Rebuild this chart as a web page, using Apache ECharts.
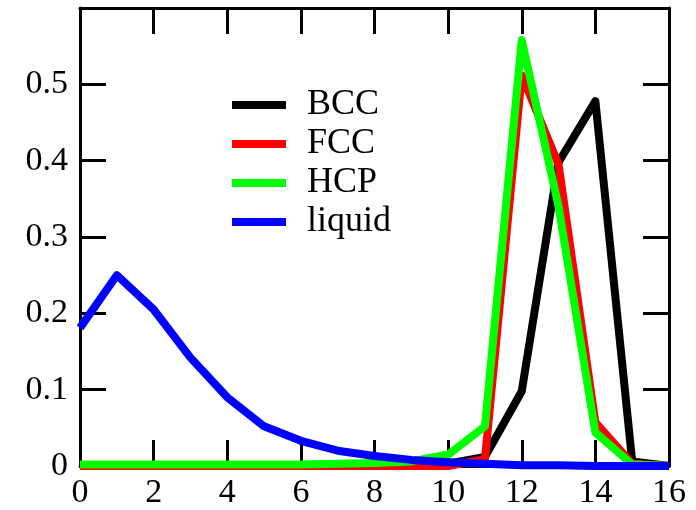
<!DOCTYPE html>
<html lang="en">
  <head>
    <meta charset="UTF-8" />
    <title>Coordination number distribution</title>
    <script src="https://cdn.jsdelivr.net/npm/echarts@6/dist/echarts.min.js"></script>
    <style>
      body {
        margin: 0;
        background-color: #ffffff;
      }

      #chart {
        width: 696px;
        height: 510px;
      }
    </style>
  </head>
  <body>
    <div id="chart"></div>
    <script>
      const chart = echarts.init(document.getElementById("chart"));

      // neighbour count 0..16
      var nn = [0, 1, 2, 3, 4, 5, 6, 7, 8, 9, 10, 11, 12, 13, 14, 15, 16];

      var bcc = [0, 0, 0, 0, 0, 0, 0, 0, 0, 0, 0.003, 0.012, 0.098, 0.398, 0.478, 0.006, 0];
      var fcc = [0, 0, 0, 0, 0, 0, 0, 0, 0, 0, 0, 0.009, 0.512, 0.395, 0.057, 0.003, 0];
      var hcp = [0.002, 0.002, 0.002, 0.002, 0.002, 0.002, 0.002, 0.003, 0.004, 0.006, 0.015, 0.052, 0.558, 0.34, 0.044, 0.002, 0];
      var liquid = [0.181, 0.25, 0.205, 0.142, 0.09, 0.052, 0.033, 0.02, 0.013, 0.008, 0.005, 0.003, 0.001, 0.001, 0, 0, 0];

      var yTickLabels = ["0", "0.1", "0.2", "0.3", "0.4", "0.5"];

      function pairs(ys) {
        return nn.map(function (x, i) {
          return [x, ys[i]];
        });
      }

      var font = "Liberation Serif";

      var axisLine = { show: true, onZero: false, lineStyle: { color: "#000", width: 3 } };
      var tick = { inside: true, length: 26, lineStyle: { color: "#000", width: 3 } };

      function line(name, color, ys) {
        return {
          name: name,
          type: "line",
          data: pairs(ys),
          symbol: "none",
          lineStyle: { color: color, width: 8, join: "round" },
          itemStyle: { color: color },
          clip: false,
        };
      }

      const options = {
        animation: false,
        grid: { left: 80, right: 27, top: 8, bottom: 43 },
        legend: {
          orient: "vertical",
          left: 227,
          top: 82,
          icon: "rect",
          itemWidth: 54,
          itemHeight: 8,
          itemGap: 3,
          textStyle: {
            fontFamily: font,
            fontSize: 36,
            color: "#000",
            padding: [0, 0, 0, 16],
          },
          data: ["BCC", "FCC", "HCP", "liquid"],
        },
        xAxis: [
          {
            type: "value",
            min: 0,
            max: 16,
            interval: 2,
            axisLine: axisLine,
            axisTick: tick,
            splitLine: { show: false },
            axisLabel: { fontFamily: font, fontSize: 34, color: "#000", margin: 10 },
          },
          {
            type: "value",
            position: "top",
            min: 0,
            max: 16,
            interval: 2,
            axisLine: axisLine,
            axisTick: tick,
            splitLine: { show: false },
            axisLabel: { show: false },
          },
        ],
        yAxis: [
          {
            type: "value",
            min: 0,
            max: 0.6,
            interval: 0.1,
            axisLine: axisLine,
            axisTick: tick,
            splitLine: { show: false },
            axisLabel: {
              fontFamily: font,
              fontSize: 34,
              color: "#000",
              margin: 12,
              formatter: function (v, i) {
                return yTickLabels[i] || "";
              },
            },
          },
          {
            type: "value",
            position: "right",
            min: 0,
            max: 0.6,
            interval: 0.1,
            axisLine: axisLine,
            axisTick: tick,
            splitLine: { show: false },
            axisLabel: { show: false },
          },
        ],
        series: [
          line("BCC", "#000000", bcc),
          line("FCC", "#ff0000", fcc),
          line("HCP", "#00ff00", hcp),
          line("liquid", "#0000ff", liquid),
        ],
      };

      chart.setOption(options);
    </script>
  </body>
</html>
